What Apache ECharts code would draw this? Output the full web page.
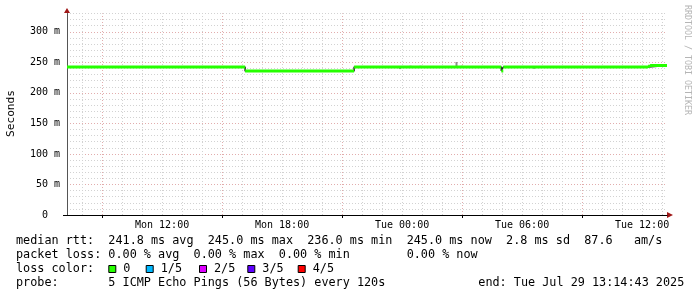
<!DOCTYPE html>
<html><head><meta charset="utf-8">
<script src="https://cdn.jsdelivr.net/npm/echarts@6/dist/echarts.min.js"></script>
<style>html,body{margin:0;padding:0;background:#fff}#c{width:697px;height:297px}</style>
</head><body><div id="c"></div>
<script>
// ---- data (hours since Mon 00:00) ----
const xStartHour = 7.2453;   // Mon 07:14:43
const xEndHour = 37.2453;    // Tue 13:14:43
const xLabelHours = [12, 18, 24, 30, 36];
const xLabelTexts = ['Mon 12:00', 'Mon 18:00', 'Tue 00:00', 'Tue 06:00', 'Tue 12:00'];
const xMajorGridHours = [9, 15, 21, 27, 33];
const xMinorGridHours = [8,9,10,11,12,13,14,15,16,17,18,19,20,21,22,23,24,25,26,27,28,29,30,31,32,33,34,35,36,37];
const yMaxMs = 330;
const yMajorStep = 50;
const yMinorStep = 10;

// median rtt (ms): value i holds from medianTimes[i] to medianTimes[i+1]
const medianTimes  = [7.2453, 16.15, 21.6, 28.96, 29.06, 36.3, 36.4];
const medianValues = [242.4, 236.0, 242.4, 236.0, 242.4, 243.6, 245.0];

// smoke (min..max of pings) where visible
const smokeTimes = [23.9, 24.42, 24.92, 25.85, 26.72, 26.98, 30.6];
const smokeLow   = [239.0, 242.0, 242.0, 242.0, 242.0, 242.0, 239.5];
const smokeHigh  = [242.0, 244.5, 244.5, 244.0, 250.5, 244.5, 242.0];

const lossLabels = ['0', '1/5', '2/5', '3/5', '4/5'];
const lossColors = ['#26ff00', '#00b8ff', '#dd00ff', '#5e00ff', '#ff0000'];

const rttStats  = ['241.8', '245.0', '236.0', '245.0', '2.8', '87.6'];
const lossStats = ['0.00', '0.00', '0.00', '0.00'];
const probeText = '5 ICMP Echo Pings (56 Bytes) every 120s';
const endText = 'end: Tue Jul 29 13:14:43 2025';

// ---- build ----
const MONO = '"DejaVu Sans Mono", monospace';
const LF = '11.8px ' + MONO;

const segData = [];
const stepData = [];
for (let i = 0; i < medianTimes.length; i++) {
  const t0 = medianTimes[i];
  const t1 = i + 1 < medianTimes.length ? medianTimes[i + 1] : xEndHour;
  segData.push([t0, medianValues[i]], [t1, medianValues[i]], [t1, '-']);
  stepData.push([t0, medianValues[i]]);
}
stepData.push([xEndHour, medianValues[medianValues.length - 1]]);

const gridDash = [1, 2];
const minorColor = '#d2d2d2';
const majorColor = '#e2adad';
const markData = [];
xMinorGridHours.forEach(h => markData.push({xAxis: h, lineStyle: {color: minorColor, type: gridDash, width: 1}}));
xMajorGridHours.forEach(h => markData.push({xAxis: h, lineStyle: {color: majorColor, type: gridDash, width: 1}}));

const row1 = 'median rtt:  ' + rttStats[0] + ' ms avg  ' + rttStats[1] + ' ms max  ' + rttStats[2] +
  ' ms min  ' + rttStats[3] + ' ms now  ' + rttStats[4] + ' ms sd  ' + rttStats[5] + '   am/s';
const row2 = 'packet loss: ' + lossStats[0] + ' % avg  ' + lossStats[1] + ' % max  ' + lossStats[2] +
  ' % min        ' + lossStats[3] + ' % now';
const row4 = 'probe:       ' + probeText;

const boxX = [108.3, 145.7, 199, 247.3, 297.7];
const graphics = [
  {type: 'text', x: 16, y: 241, style: {text: row1, font: LF, fill: '#000', verticalAlign: 'middle'}},
  {type: 'text', x: 16, y: 255, style: {text: row2, font: LF, fill: '#000', verticalAlign: 'middle'}},
  {type: 'text', x: 16, y: 269.3, style: {text: 'loss color:', font: LF, fill: '#000', verticalAlign: 'middle'}},
  {type: 'text', x: 16, y: 283.3, style: {text: row4, font: LF, fill: '#000', verticalAlign: 'middle'}},
  {type: 'text', x: 478.3, y: 283.3, style: {text: endText, font: LF, fill: '#000', verticalAlign: 'middle'}},
  {type: 'text', x: 11, y: 113.5, rotation: Math.PI / 2,
    style: {text: 'Seconds', font: '11.2px ' + MONO, fill: '#000', align: 'center', verticalAlign: 'middle'}},
  {type: 'text', x: 687, y: 5, rotation: -Math.PI / 2,
    style: {text: 'RRDTOOL / TOBI OETIKER', font: '8.3px ' + MONO, fill: '#b5b5b5', align: 'left', verticalAlign: 'middle'}},
  {type: 'polygon', shape: {points: [[64, 13], [67, 8], [70, 13]]}, style: {fill: '#a01818'}},
  {type: 'polygon', shape: {points: [[667, 212], [673, 215], [667, 218]]}, style: {fill: '#a01818'}},
  {type: 'line', shape: {x1: 63, y1: 215.5, x2: 67, y2: 215.5}, style: {stroke: '#000', lineWidth: 1}}
];
lossLabels.forEach((lab, i) => {
  graphics.push({type: 'rect', shape: {x: boxX[i] + 0.5, y: 265.5, width: 7, height: 7},
    style: {fill: lossColors[i], stroke: '#000', lineWidth: 1}});
  graphics.push({type: 'text', x: boxX[i] + 15, y: 269.3,
    style: {text: lab, font: LF, fill: '#000', verticalAlign: 'middle'}});
});

const chart = echarts.init(document.getElementById('c'), null, {renderer: 'canvas'});
chart.setOption({
  animation: false,
  backgroundColor: '#ffffff',
  grid: {left: 67, right: 30, top: 13.5, bottom: 82, containLabel: false, outerBoundsMode: 'none'},
  xAxis: {
    type: 'value', min: xStartHour, max: xEndHour,
    axisLine: {show: true, onZero: false, lineStyle: {color: '#000', width: 1}},
    axisTick: {show: true, customValues: xMajorGridHours, length: 3, lineStyle: {color: '#000'}},
    axisLabel: {
      show: true, customValues: xLabelHours, margin: 5,
      fontFamily: MONO, fontSize: 10, color: '#000',
      formatter: v => { const i = xLabelHours.indexOf(Math.round(v)); return i >= 0 ? xLabelTexts[i] : ''; }
    },
    splitLine: {show: false}
  },
  yAxis: [
    {
      type: 'value', position: 'left', min: 0, max: yMaxMs, interval: yMinorStep,
      axisLine: {show: false}, axisTick: {show: false}, axisLabel: {show: false},
      splitLine: {show: true, showMinLine: false, lineStyle: {color: minorColor, type: gridDash, width: 1}}
    },
    {
      type: 'value', position: 'left', offset: 0, min: 0, max: yMaxMs, interval: yMajorStep,
      axisLine: {show: true, onZero: false, lineStyle: {color: '#555', width: 1}},
      axisTick: {show: false},
      axisLabel: {
        show: true, margin: 7, showMaxLabel: false,
        fontFamily: MONO, fontSize: 10, color: '#000',
        formatter: v => v === 0 ? '0  ' : v + ' m'
      },
      splitLine: {show: true, showMinLine: false, showMaxLine: false,
        lineStyle: {color: majorColor, type: gridDash, width: 1}}
    }
  ],
  graphic: graphics,
  series: [
    {
      type: 'line', yAxisIndex: 0, data: [[xStartHour, 0]], showSymbol: false, silent: true,
      lineStyle: {opacity: 0}, z: 1,
      markLine: {silent: true, symbol: ['none', 'none'], label: {show: false}, animation: false,
        emphasis: {disabled: true}, data: markData}
    },
    {
      type: 'custom', yAxisIndex: 0, z: 8, silent: true,
      data: smokeTimes.map((t, i) => [t, smokeLow[i], smokeHigh[i]]),
      encode: {x: 0, y: [1, 2]},
      renderItem: (params, api) => {
        const top = api.coord([api.value(0), api.value(2)]);
        const bot = api.coord([api.value(0), api.value(1)]);
        return {type: 'rect', shape: {x: top[0] - 1, y: top[1], width: 2, height: bot[1] - top[1]},
          style: {fill: '#8c8c8c'}};
      }
    },
    {
      type: 'line', yAxisIndex: 0, data: stepData, step: 'end', showSymbol: false, silent: true,
      lineStyle: {color: '#222', width: 1.5}, z: 9
    },
    {
      type: 'line', yAxisIndex: 0, data: segData, showSymbol: false, silent: true, connectNulls: false,
      lineStyle: {color: lossColors[0], width: 3, cap: 'butt'}, z: 10
    }
  ]
});
</script>
</body></html>
